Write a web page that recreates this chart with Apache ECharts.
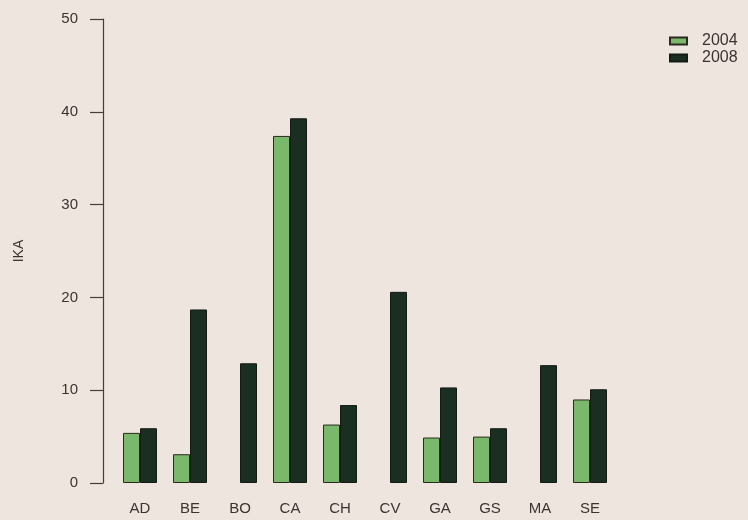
<!DOCTYPE html>
<html><head><meta charset="utf-8">
<script src="https://cdn.jsdelivr.net/npm/echarts@6/dist/echarts.min.js"></script>
<style>html,body{margin:0;padding:0;background:#eee6de;}#c{width:748px;height:520px;}</style>
</head><body><div id="c"></div>
<script>
const categories = ['AD','BE','BO','CA','CH','CV','GA','GS','MA','SE'];
const v2004 = [5.4, 3.1, 0, 37.4, 6.3, 0, 4.9, 5.0, 0, 9.0];
const v2008 = [5.9, 18.7, 12.9, 39.3, 8.4, 20.6, 10.3, 5.9, 12.7, 10.1];
const seriesNames = ['2004','2008'];
const yTicks = [0,10,20,30,40,50];

const font = 'Liberation Sans, Arial, sans-serif';
const txt = '#3b3330';
function barData(arr) {
  return arr.map(v => v === 0 ? {value: v, itemStyle: {borderWidth: 0, opacity: 0}} : v);
}
const chart = echarts.init(document.getElementById('c'));
chart.setOption({
  backgroundColor: '#eee6de',
  animation: false,
  textStyle: {fontFamily: font},
  grid: {left: 115, right: 133, top: 19, bottom: 37},
  legend: {
    orient: 'vertical', left: 664, top: 28, itemWidth: 17, itemHeight: 7, itemGap: 1,
    icon: 'rect',
    textStyle: {color: txt, fontSize: 16, fontFamily: font, padding: [0, 0, 0, 10]},
    data: seriesNames
  },
  xAxis: {
    type: 'category', data: categories,
    axisLine: {show: false}, axisTick: {show: false},
    axisLabel: {color: txt, fontSize: 15, margin: 18, fontFamily: font}
  },
  yAxis: {
    type: 'value', min: yTicks[0], max: yTicks[yTicks.length-1], interval: 10,
    offset: 12,
    name: 'IKA', nameLocation: 'middle', nameGap: 77,
    nameTextStyle: {color: txt, fontSize: 14, fontFamily: font},
    axisLine: {show: true, lineStyle: {color: '#4a3c36', width: 1.2}},
    axisTick: {show: true, length: 13, lineStyle: {color: '#4a3c36', width: 1.2}},
    axisLabel: {color: txt, fontSize: 15, margin: 25, fontFamily: font},
    splitLine: {show: false}
  },
  series: [
    {name: seriesNames[0], type: 'bar', data: barData(v2004), barWidth: 17, barGap: '0%',
     itemStyle: {color: '#7ab86b', borderColor: '#2a2a1e', borderWidth: 1}},
    {name: seriesNames[1], type: 'bar', data: barData(v2008), barWidth: 17,
     itemStyle: {color: '#1b2e22', borderColor: '#141a14', borderWidth: 1}}
  ]
});
</script></body></html>
